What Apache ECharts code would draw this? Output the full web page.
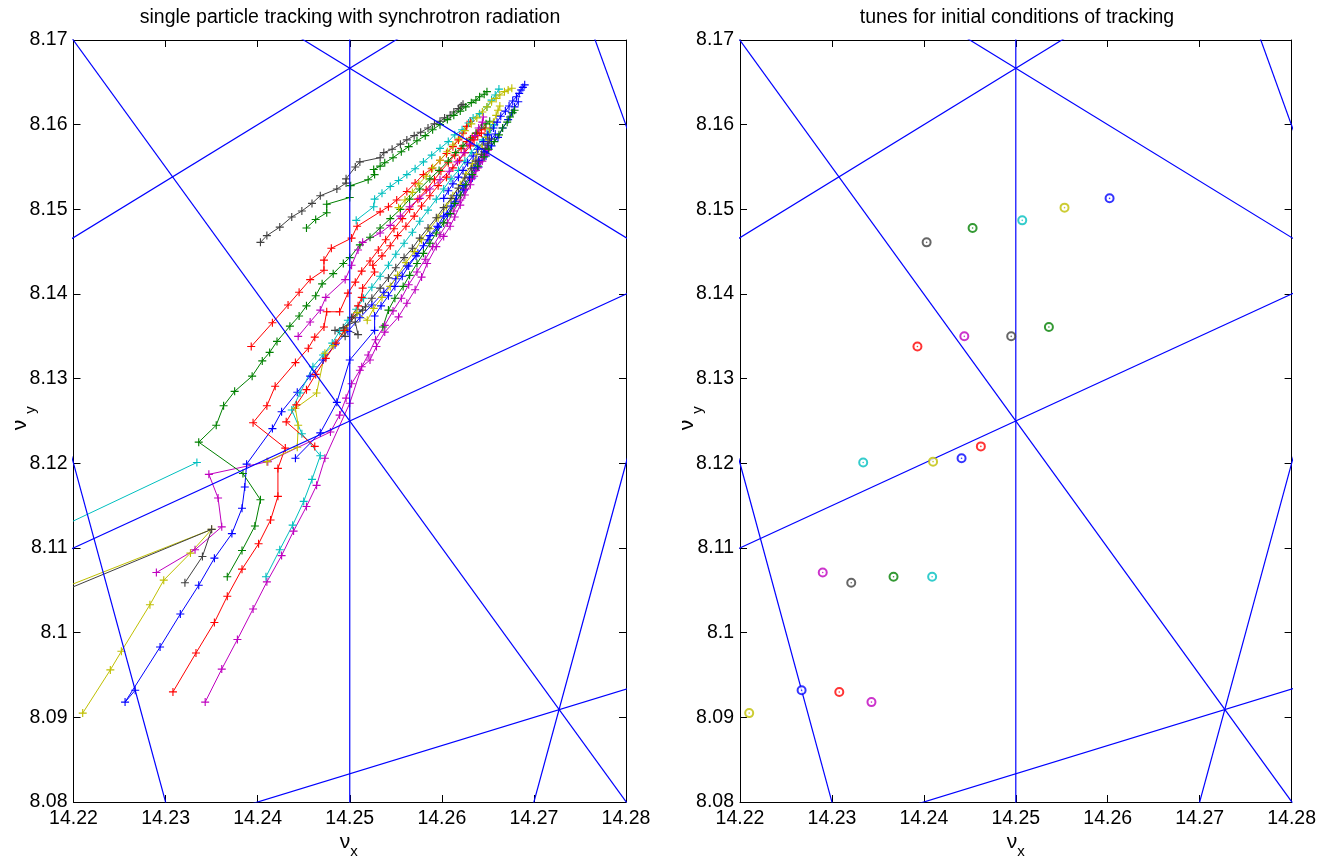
<!DOCTYPE html>
<html><head><meta charset="utf-8">
<script src="https://cdn.jsdelivr.net/npm/echarts@6/dist/echarts.min.js"></script>
<style>html,body{margin:0;padding:0;background:#fff}#c{width:1319px;height:856px}</style>
</head><body><div id="c"></div>
<script>
const xTicks = [14.22, 14.23, 14.24, 14.25, 14.26, 14.27, 14.28];
const yTicks = [8.08, 8.09, 8.1, 8.11, 8.12, 8.13, 8.14, 8.15, 8.16, 8.17];
const leftTitle = 'single particle tracking with synchrotron radiation';
const rightTitle = 'tunes for initial conditions of tracking';

// resonance lines (endpoints in tune space, clipped by the axes)
const resNux14_25 = [[14.25, 8.07], [14.25, 8.18]];
const res3x2y59 = [[14.2133, 8.18], [14.2867, 8.07]];
const res2x3y4 = [[14.21, 8.14], [14.29, 8.19333]];
const res2x3y53 = [[14.21, 8.19333], [14.29, 8.14]];
const res1x2y2 = [[14.21, 8.105], [14.29, 8.145]];
const res1x3y10 = [[14.21, 8.07], [14.29, 8.09667]];
const res4x1y65 = [[14.2175, 8.13], [14.2325, 8.07]];
const res4x1y49 = [[14.2675, 8.07], [14.2825, 8.13]];
const res3x1y51 = [[14.27, 8.19], [14.2833, 8.15]];

// tracks (nu_x, nu_y) per turn sample
const trackEk = [[14.2403,8.1461],[14.2410,8.1469],[14.2424,8.1479],[14.2437,8.1491],[14.2448,8.1498],[14.2459,8.1507],[14.2468,8.1516],[14.2486,8.1524],[14.2496,8.1531],[14.2496,8.1536],[14.2506,8.1550],[14.2511,8.1556],[14.2533,8.1561],[14.2537,8.1567],[14.2546,8.1571],[14.2555,8.1577],[14.2562,8.1582],[14.2570,8.1587],[14.2577,8.1591],[14.2585,8.1596],[14.2592,8.1601],[14.2598,8.1604],[14.2603,8.1608],[14.2609,8.1611],[14.2613,8.1615],[14.2618,8.1619],[14.2621,8.1622],[14.2623,8.1624]];
const trackEg = [[14.2453,8.1478],[14.2463,8.1488],[14.2475,8.1496],[14.2475,8.1506],[14.2500,8.1514],[14.2501,8.1528],[14.2520,8.1535],[14.2527,8.1541],[14.2526,8.1547],[14.2533,8.1551],[14.2538,8.1555],[14.2547,8.1561],[14.2556,8.1568],[14.2564,8.1574],[14.2573,8.1581],[14.2582,8.1587],[14.2590,8.1594],[14.2598,8.1600],[14.2606,8.1606],[14.2613,8.1611],[14.2620,8.1616],[14.2626,8.1621],[14.2632,8.1626],[14.2637,8.1629],[14.2641,8.1633],[14.2646,8.1636],[14.2649,8.1639]];
const trackEc = [[14.2507,8.1487],[14.2526,8.1503],[14.2527,8.1512],[14.2535,8.1519],[14.2544,8.1527],[14.2553,8.1534],[14.2562,8.1541],[14.2571,8.1548],[14.2580,8.1556],[14.2589,8.1564],[14.2598,8.1572],[14.2607,8.1580],[14.2614,8.1588],[14.2622,8.1594],[14.2629,8.1602],[14.2634,8.1608],[14.2641,8.1613],[14.2649,8.1621],[14.2654,8.1629],[14.2658,8.1635],[14.2662,8.1642]];
const trackEy = [[14.2553,8.1502],[14.2560,8.1511],[14.2568,8.1520],[14.2575,8.1530],[14.2583,8.1539],[14.2590,8.1549],[14.2598,8.1558],[14.2606,8.1568],[14.2612,8.1576],[14.2619,8.1584],[14.2625,8.1593],[14.2632,8.1601],[14.2638,8.1608],[14.2644,8.1615],[14.2649,8.1621],[14.2654,8.1627],[14.2659,8.1631],[14.2663,8.1635],[14.2668,8.1639],[14.2672,8.1641],[14.2676,8.1643]];
const trackEb = [[14.2602,8.1513],[14.2607,8.1522],[14.2612,8.1530],[14.2618,8.1538],[14.2623,8.1546],[14.2628,8.1555],[14.2634,8.1563],[14.2639,8.1571],[14.2645,8.1580],[14.2650,8.1588],[14.2656,8.1596],[14.2660,8.1603],[14.2664,8.1610],[14.2669,8.1616],[14.2673,8.1622],[14.2677,8.1628],[14.2681,8.1633],[14.2684,8.1637],[14.2686,8.1641],[14.2688,8.1644],[14.2690,8.1647]];
const trackDr = [[14.2393,8.1338],[14.2416,8.1366],[14.2433,8.1387],[14.2445,8.1402],[14.2457,8.1417],[14.2472,8.1428],[14.2472,8.1440],[14.2480,8.1454],[14.2502,8.1466],[14.2508,8.1480],[14.2533,8.1497],[14.2542,8.1503],[14.2551,8.1511],[14.2562,8.1521],[14.2571,8.1531],[14.2580,8.1541],[14.2589,8.1548],[14.2598,8.1558],[14.2605,8.1566],[14.2612,8.1574],[14.2618,8.1582],[14.2623,8.1590],[14.2627,8.1598],[14.2631,8.1604]];
const trackDm = [[14.2444,8.1350],[14.2457,8.1367],[14.2468,8.1381],[14.2474,8.1396],[14.2495,8.1417],[14.2502,8.1434],[14.2509,8.1452],[14.2514,8.1461],[14.2533,8.1472],[14.2544,8.1481],[14.2555,8.1492],[14.2565,8.1503],[14.2576,8.1513],[14.2587,8.1524],[14.2598,8.1535],[14.2608,8.1545],[14.2617,8.1556],[14.2624,8.1567],[14.2630,8.1577],[14.2636,8.1587],[14.2640,8.1596],[14.2644,8.1603],[14.2645,8.1609]];
const trackDk = [[14.2495,8.1350],[14.2484,8.1357],[14.2506,8.1367],[14.2509,8.1352],[14.2493,8.1360],[14.2514,8.1381],[14.2502,8.1372],[14.2517,8.1385],[14.2524,8.1395],[14.2533,8.1407],[14.2542,8.1419],[14.2550,8.1431],[14.2559,8.1443],[14.2568,8.1454],[14.2576,8.1466],[14.2585,8.1478],[14.2594,8.1490],[14.2602,8.1502],[14.2610,8.1513],[14.2618,8.1525],[14.2625,8.1537],[14.2632,8.1548],[14.2637,8.1557],[14.2643,8.1565],[14.2647,8.1572],[14.2650,8.1578],[14.2652,8.1583]];
const trackDg = [[14.2536,8.1361],[14.2542,8.1381],[14.2549,8.1395],[14.2558,8.1409],[14.2565,8.1422],[14.2573,8.1436],[14.2580,8.1448],[14.2587,8.1460],[14.2594,8.1472],[14.2602,8.1484],[14.2609,8.1495],[14.2614,8.1507],[14.2620,8.1517],[14.2626,8.1529],[14.2633,8.1541],[14.2639,8.1551],[14.2646,8.1562],[14.2651,8.1571],[14.2657,8.1580],[14.2662,8.1588],[14.2666,8.1596],[14.2671,8.1603],[14.2674,8.1609],[14.2677,8.1614],[14.2679,8.1617]];
const trackCc = [[14.2334,8.1201],[14.2000,8.1029]];
const trackCy = [[14.2410,8.1202],[14.2443,8.1219],[14.2444,8.1245],[14.2441,8.1265],[14.2464,8.1283],[14.2473,8.1330],[14.2482,8.1339],[14.2495,8.1357],[14.2508,8.1378],[14.2519,8.1369],[14.2526,8.1383],[14.2535,8.1396],[14.2544,8.1409],[14.2552,8.1422],[14.2561,8.1437],[14.2570,8.1450],[14.2578,8.1464],[14.2587,8.1477],[14.2596,8.1490],[14.2605,8.1503],[14.2612,8.1516],[14.2620,8.1529],[14.2626,8.1542],[14.2633,8.1554],[14.2638,8.1565],[14.2644,8.1576],[14.2648,8.1585],[14.2652,8.1595],[14.2656,8.1603],[14.2659,8.1611],[14.2661,8.1617],[14.2663,8.1622]];
const trackCb = [[14.2441,8.1206],[14.2468,8.1236],[14.2486,8.1272],[14.2500,8.1322],[14.2527,8.1357],[14.2527,8.1374],[14.2534,8.1386],[14.2542,8.1398],[14.2549,8.1409],[14.2557,8.1421],[14.2564,8.1433],[14.2572,8.1445],[14.2580,8.1457],[14.2587,8.1469],[14.2595,8.1480],[14.2602,8.1492],[14.2610,8.1504],[14.2616,8.1516],[14.2623,8.1528],[14.2630,8.1538],[14.2635,8.1549],[14.2640,8.1558],[14.2646,8.1568],[14.2650,8.1576],[14.2654,8.1583],[14.2658,8.1589]];
const trackCr = [[14.2462,8.1220],[14.2431,8.1249],[14.2442,8.1269],[14.2453,8.1287],[14.2463,8.1305],[14.2474,8.1324],[14.2485,8.1342],[14.2494,8.1357],[14.2502,8.1372],[14.2509,8.1386],[14.2513,8.1396],[14.2514,8.1407],[14.2527,8.1426],[14.2525,8.1434],[14.2535,8.1445],[14.2544,8.1457],[14.2552,8.1469],[14.2561,8.1480],[14.2570,8.1492],[14.2578,8.1504],[14.2587,8.1516],[14.2596,8.1528],[14.2605,8.1538],[14.2612,8.1549],[14.2619,8.1558],[14.2625,8.1567],[14.2631,8.1575],[14.2635,8.1582],[14.2639,8.1587],[14.2643,8.1590]];
const trackBm = [[14.2290,8.1071],[14.2332,8.1098],[14.2361,8.1125],[14.2357,8.1159],[14.2347,8.1187],[14.2411,8.1202],[14.2479,8.1237],[14.2489,8.1257],[14.2496,8.1277],[14.2502,8.1294],[14.2511,8.1310],[14.2520,8.1328],[14.2528,8.1346],[14.2538,8.1363],[14.2547,8.1380],[14.2556,8.1395],[14.2564,8.1411],[14.2573,8.1426],[14.2582,8.1441],[14.2590,8.1456],[14.2598,8.1470],[14.2606,8.1484],[14.2613,8.1498],[14.2620,8.1511],[14.2626,8.1524],[14.2632,8.1536],[14.2637,8.1546],[14.2641,8.1556],[14.2646,8.1564],[14.2649,8.1571]];
const trackBk = [[14.2321,8.1059],[14.2340,8.1090],[14.2350,8.1122],[14.2000,8.0964]];
const trackBg = [[14.2367,8.1066],[14.2383,8.1097],[14.2397,8.1126],[14.2403,8.1157],[14.2384,8.1188],[14.2336,8.1225],[14.2355,8.1245],[14.2363,8.1268],[14.2375,8.1285],[14.2394,8.1303],[14.2405,8.1321],[14.2413,8.1331],[14.2421,8.1344],[14.2435,8.1362],[14.2445,8.1374],[14.2453,8.1386],[14.2463,8.1398],[14.2470,8.1412],[14.2482,8.1424],[14.2493,8.1436],[14.2500,8.1443],[14.2511,8.1458],[14.2522,8.1467],[14.2533,8.1478],[14.2544,8.1489],[14.2555,8.1500],[14.2565,8.1512],[14.2576,8.1524],[14.2587,8.1536],[14.2597,8.1546],[14.2607,8.1557],[14.2615,8.1567],[14.2623,8.1575],[14.2631,8.1583],[14.2637,8.1590],[14.2643,8.1596],[14.2648,8.1601],[14.2652,8.1604]];
const trackBc = [[14.2409,8.1066],[14.2424,8.1098],[14.2438,8.1127],[14.2450,8.1155],[14.2459,8.1181],[14.2468,8.1209],[14.2448,8.1235],[14.2437,8.1263],[14.2446,8.1283],[14.2460,8.1314],[14.2471,8.1328],[14.2481,8.1342],[14.2489,8.1356],[14.2498,8.1369],[14.2507,8.1382],[14.2515,8.1395],[14.2524,8.1408],[14.2533,8.1421],[14.2542,8.1434],[14.2550,8.1447],[14.2559,8.1460],[14.2568,8.1473],[14.2576,8.1486],[14.2585,8.1499],[14.2594,8.1512],[14.2602,8.1524],[14.2610,8.1536],[14.2618,8.1546],[14.2625,8.1557],[14.2632,8.1567],[14.2638,8.1575],[14.2644,8.1582],[14.2649,8.1589],[14.2653,8.1595],[14.2657,8.1600]];
const trackAy = [[14.2210,8.0905],[14.2240,8.0956],[14.2252,8.0978],[14.2283,8.1033],[14.2298,8.1062],[14.2327,8.1094],[14.2350,8.1122],[14.2000,8.0972]];
const trackAb = [[14.2267,8.0932],[14.2256,8.0918],[14.2294,8.0983],[14.2316,8.1022],[14.2336,8.1056],[14.2353,8.1088],[14.2372,8.1117],[14.2383,8.1147],[14.2386,8.1172],[14.2388,8.1199],[14.2416,8.1241],[14.2426,8.1261],[14.2443,8.1284],[14.2457,8.1303],[14.2471,8.1322],[14.2484,8.1340],[14.2498,8.1356],[14.2511,8.1372],[14.2524,8.1387],[14.2537,8.1402],[14.2550,8.1418],[14.2562,8.1433],[14.2574,8.1448],[14.2585,8.1464],[14.2596,8.1479],[14.2606,8.1494],[14.2615,8.1509],[14.2624,8.1523],[14.2633,8.1537],[14.2640,8.1550],[14.2648,8.1563],[14.2654,8.1575],[14.2661,8.1585],[14.2666,8.1596],[14.2672,8.1606],[14.2676,8.1614],[14.2679,8.1621],[14.2683,8.1627]];
const trackAr = [[14.2308,8.0930],[14.2333,8.0976],[14.2353,8.1012],[14.2367,8.1043],[14.2383,8.1075],[14.2401,8.1105],[14.2414,8.1133],[14.2422,8.1161],[14.2422,8.1194],[14.2430,8.1218],[14.2395,8.1248],[14.2410,8.1268],[14.2419,8.1291],[14.2441,8.1319],[14.2455,8.1336],[14.2462,8.1349],[14.2472,8.1361],[14.2475,8.1379],[14.2489,8.1379],[14.2498,8.1401],[14.2506,8.1414],[14.2513,8.1427],[14.2522,8.1439],[14.2531,8.1452],[14.2539,8.1464],[14.2548,8.1477],[14.2557,8.1489],[14.2565,8.1500],[14.2574,8.1512],[14.2583,8.1523],[14.2592,8.1535],[14.2599,8.1545],[14.2607,8.1555],[14.2614,8.1564],[14.2621,8.1572],[14.2627,8.1580],[14.2633,8.1585],[14.2638,8.1590],[14.2643,8.1594],[14.2647,8.1596]];
const trackAm = [[14.2343,8.0918],[14.2361,8.0957],[14.2378,8.0992],[14.2395,8.1028],[14.2410,8.1060],[14.2426,8.1091],[14.2439,8.1120],[14.2453,8.1149],[14.2464,8.1174],[14.2473,8.1206],[14.2500,8.1271],[14.2513,8.1314],[14.2522,8.1322],[14.2529,8.1338],[14.2538,8.1355],[14.2553,8.1373],[14.2562,8.1389],[14.2571,8.1405],[14.2578,8.1420],[14.2584,8.1436],[14.2594,8.1456],[14.2602,8.1468],[14.2609,8.1480],[14.2614,8.1491],[14.2620,8.1505],[14.2625,8.1517],[14.2631,8.1529],[14.2635,8.1539],[14.2639,8.1549],[14.2644,8.1557],[14.2647,8.1564],[14.2650,8.1570]];

const COL = {b:'#0000ff', g:'#008000', r:'#ff0000', c:'#00bfbf', m:'#bf00bf', y:'#bfbf00', k:'#404040'};
const trackList = [
  [trackAy,'y'],[trackAb,'b'],[trackAr,'r'],[trackAm,'m'],
  [trackBm,'m'],[trackBk,'k'],[trackBg,'g'],[trackBc,'c'],
  [trackCc,'c'],[trackCy,'y'],[trackCb,'b'],[trackCr,'r'],
  [trackDr,'r'],[trackDm,'m'],[trackDk,'k'],[trackDg,'g'],
  [trackEk,'k'],[trackEg,'g'],[trackEc,'c'],[trackEy,'y'],[trackEb,'b']
];
const resList = [resNux14_25, res3x2y59, res2x3y4, res2x3y53, res1x2y2, res1x3y10, res4x1y65, res4x1y49, res3x1y51];

const FONT = '"Liberation Sans", Arial, Helvetica, sans-serif';
const FS = 19.5;
const PLUS = 'path://M4.3,0H5.7V4.3H10V5.7H5.7V10H4.3V5.7H0V4.3H4.3Z';
const grids = [{left:73.5, top:40, width:552.5, height:762}, {left:740, top:40, width:553, height:762}];

function nearest(arr, v){ let b=arr[0]; for(const t of arr){ if(Math.abs(t-v)<Math.abs(b-v)) b=t; } return String(b); }

const xAxes = [], yAxes = [];
grids.forEach((g, gi) => {
  const common = {gridIndex: gi, type:'value', splitLine:{show:false},
    axisLine:{show:true, onZero:false, lineStyle:{color:'#000', width:1}},
    axisTick:{show:true, inside:true, length:7, lineStyle:{color:'#000', width:1}}};
  xAxes.push(Object.assign({}, common, {position:'bottom', min:14.22, max:14.28, interval:0.01,
    axisLabel:{show:true, margin:7, color:'#000', fontSize:FS, fontFamily:FONT, showMinLabel:true, showMaxLabel:true,
      formatter: v => nearest(xTicks, v)}}));
  xAxes.push(Object.assign({}, common, {position:'top', min:14.22, max:14.28, interval:0.01, axisLabel:{show:false}}));
  yAxes.push(Object.assign({}, common, {position:'left', min:8.08, max:8.17, interval:0.01,
    axisLabel:{show:true, margin:6, color:'#000', fontSize:FS, fontFamily:FONT, showMinLabel:true, showMaxLabel:true,
      formatter: v => nearest(yTicks, v)}}));
  yAxes.push(Object.assign({}, common, {position:'right', min:8.08, max:8.17, interval:0.01, axisLabel:{show:false}}));
});

const series = [];
// left panel: tracks
trackList.forEach(([d, c]) => {
  series.push({type:'line', xAxisIndex:0, yAxisIndex:0, data:d, clip:true,
    symbol:PLUS, symbolSize:8, showAllSymbol:true,
    lineStyle:{color:COL[c], width:1}, itemStyle:{color:COL[c]}, silent:true, z:2});
});
// resonance lines on both panels
[0,1].forEach(gi => {
  resList.forEach(d => {
    series.push({type:'line', xAxisIndex:gi*2, yAxisIndex:gi*2, data:d, clip:true, symbol:'none',
      lineStyle:{color:'#0000ff', width:1.2}, silent:true, z:3});
  });
});
// right panel: initial conditions
const initPoints = trackList.map(([d, c]) => ({value: d[0], itemStyle:{color: COL[c]}}));
series.push({type:'scatter', xAxisIndex:2, yAxisIndex:2, data:initPoints, symbol:'emptyCircle', symbolSize:8,
  itemStyle:{borderWidth:1.2}, silent:true, z:4});
series.push({type:'scatter', xAxisIndex:2, yAxisIndex:2, data:initPoints, symbol:'circle', symbolSize:1.6, silent:true, z:5});

function txt(x, y, text, size, rot){
  return {type:'text', x:x, y:y, rotation: rot||0, z:10,
    style:{text:text, fontSize:size, fontFamily:FONT, fill:'#000', align:'center', verticalAlign:'middle'}};
}
const graphic = [
  txt(350, 18, leftTitle, FS),
  txt(1017, 18, rightTitle, FS),
  txt(345, 842, 'ν', 21), txt(354, 852, 'x', 15),
  txt(1012, 842, 'ν', 21), txt(1021, 852, 'x', 15),
  txt(20, 425, 'ν', 21, Math.PI/2), txt(31, 410, 'y', 15, Math.PI/2),
  txt(687, 425, 'ν', 21, Math.PI/2), txt(698, 410, 'y', 15, Math.PI/2)
];

const chart = echarts.init(document.getElementById('c'), null, {renderer:'canvas'});
chart.setOption({animation:false, backgroundColor:'#fff', grid:grids, xAxis:xAxes, yAxis:yAxes, series:series, graphic:graphic});
</script>
</body></html>
